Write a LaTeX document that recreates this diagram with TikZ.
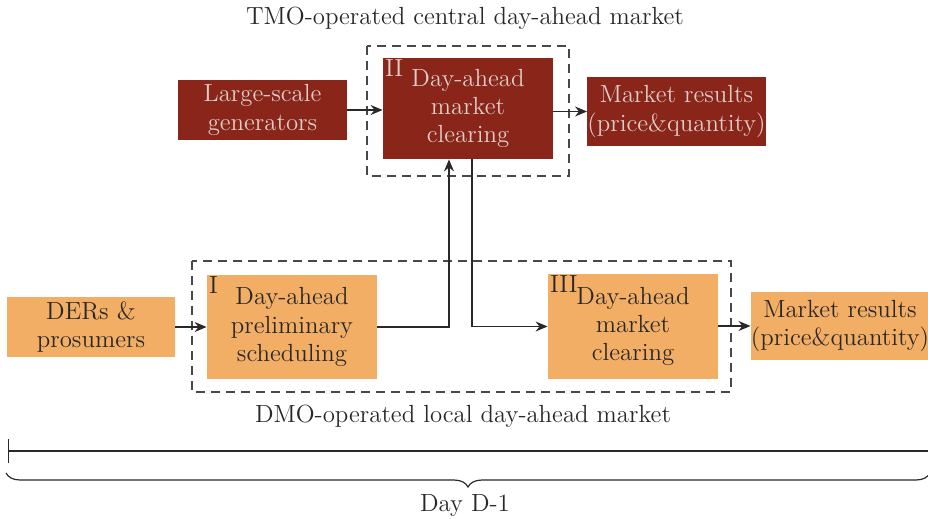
\documentclass[tikz,border=0pt]{standalone}
\usetikzlibrary{arrows.meta,decorations.pathreplacing,calc}
\definecolor{tmored}{RGB}{138,37,26}
\definecolor{tmotext}{RGB}{222,205,200}
\definecolor{dmoorange}{RGB}{243,174,101}
\definecolor{ink}{RGB}{40,40,40}
\begin{document}
\begin{tikzpicture}[x=0.5pt,y=-0.5pt,
  font=\fontsize{12.4}{14.2}\selectfont,
  blk/.style={inner sep=0pt,align=center,text=ink},
  tmobox/.style={blk,fill=tmored,text=tmotext},
  dmobox/.style={blk,fill=dmoorange},
  tag/.style={anchor=north west,inner sep=1pt},
  group/.style={draw=ink!85,line width=0.6pt,dash pattern=on 4.5pt off 3pt},
  arr/.style={draw=ink,line width=0.7pt,-{Stealth[length=6pt,width=5pt]}},
  lbl/.style={text=ink}]
\useasboundingbox (0,0) rectangle (928,519);

% titles
\node[lbl] (ttop) at (465,18) {TMO-operated central day-ahead market};
\node[lbl] (tbot) at (463,416) {DMO-operated local day-ahead market};

% dashed market frames
\draw[group] (367,46) rectangle (569,176);
\draw[group] (192,261) rectangle (731,392);

% central market
\node[tmobox,minimum width=84.5pt,minimum height=30pt] (gen) at (262.5,110) {Large-scale\\generators};
\node[tmobox,minimum width=85pt,minimum height=50.5pt] (II) at (468,108.5) {Day-ahead\\market\\clearing};
\node[tag,text=tmotext] (tII) at (II.north west) {II};
\node[tmobox,minimum width=88.5pt,minimum height=34.5pt] (mrtop) at (676.5,111.5) {Market results\\(price\&quantity)};

% local market
\node[dmobox,minimum width=84pt,minimum height=30pt] (der) at (91,327) {DERs \&\\prosumers};
\node[dmobox,minimum width=85pt,minimum height=52pt] (I) at (292,327) {Day-ahead\\preliminary\\scheduling};
\node[tag,text=ink] (tI) at (I.north west) {I};
\node[dmobox,minimum width=85pt,minimum height=52.5pt] (III) at (633,326.5) {Day-ahead\\market\\clearing};
\node[tag,text=ink] (tIII) at (III.north west) {III};
\node[dmobox,minimum width=88pt,minimum height=34pt] (mrbot) at (840,326) {Market results\\(price\&quantity)};

% connectors
\coordinate (jA) at (449,0);
\coordinate (jB) at (472,0);
\draw[arr] (gen.east) -- (gen.east -| II.west);
\draw[arr] (II.east |- mrtop.west) -- (mrtop.west);
\draw[arr] (der.east) -- (der.east -| I.west);
\draw[arr] (I.east) -| (jA |- II.south);
\draw[arr] (jB |- II.south) |- (III.west);
\draw[arr] (III.east |- mrbot.west) -- (mrbot.west);

% time line
\coordinate (tl0) at (8,451);
\coordinate (tl1) at (928,451);
\draw[ink,line width=0.6pt] (tl0) -- (tl1);
\draw[ink,line width=0.5pt] (8,439) -- (8,463);
\coordinate (br0) at (6,473);
\coordinate (br1) at (930,473);
\draw[ink,line width=0.6pt,decorate,decoration={brace,mirror,amplitude=7pt}] (br0) -- (br1);
\node[lbl] (day) at (465,506) {Day D-1};
\end{tikzpicture}
\end{document}
